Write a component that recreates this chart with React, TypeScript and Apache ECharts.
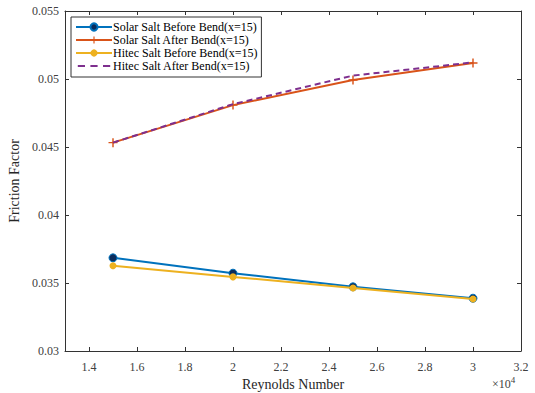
import React, { useEffect, useRef } from "react";
import * as echarts from "echarts";

const reynolds = [15000, 20000, 25000, 30000];
const solarBefore = [0.03685, 0.03572, 0.03472, 0.03388];
const solarAfter = [0.04532, 0.04808, 0.04992, 0.05118];
const hitecBefore = [0.03627, 0.03545, 0.03463, 0.03382];
const hitecAfter = [0.04532, 0.04815, 0.05025, 0.05122];
const seriesNames = [
  "Solar Salt Before Bend(x=15)",
  "Solar Salt After Bend(x=15)",
  "Hitec Salt Before Bend(x=15)",
  "Hitec Salt After Bend(x=15)",
];
const xTicks = [14000, 16000, 18000, 20000, 22000, 24000, 26000, 28000, 30000, 32000];
const xTickLabels = ["1.4", "1.6", "1.8", "2", "2.2", "2.4", "2.6", "2.8", "3", "3.2"];

const plusPath = "path://M4.2,0h1.6v10h-1.6z M0,4.2h10v1.6h-10z";
const dashIconPath =
  "path://M0,0h0.01v0.01h-0.01z M35.99,9.99h0.01v0.01h-0.01z M0,4h8v2h-8z M14,4h8v2h-8z M28,4h8v2h-8z";
const FONT = "'Liberation Serif', 'Times New Roman', serif";

export default function App() {
  const ref = useRef<HTMLDivElement>(null);
  useEffect(() => {
    const chart = echarts.init(ref.current!, undefined, { renderer: "svg" });
    const mk = (arr: number[]) => reynolds.map((x, i) => [x, arr[i]]);
    const tickLabelStyle = { fontFamily: FONT, fontSize: 12, color: "#404040" };
    chart.setOption({
      animation: false,
      backgroundColor: "#fff",
      textStyle: { fontFamily: FONT },
      grid: {
        left: 65,
        right: 14,
        top: 11,
        bottom: 42,
        show: false,
        containLabel: false,
        outerBoundsMode: "none",
      },
      legend: {
        orient: "vertical",
        left: 71,
        top: 17,
        itemWidth: 36,
        itemHeight: 9,
        itemGap: 1,
        padding: [4, 4, 5, 4],
        borderColor: "#333",
        borderWidth: 1,
        backgroundColor: "#fff",
        borderRadius: 0,
        textStyle: { fontFamily: FONT, fontSize: 12, color: "#000", padding: [0, 0, 0, -4] },
        data: [
          { name: seriesNames[0] },
          { name: seriesNames[1] },
          { name: seriesNames[2] },
          { name: seriesNames[3], icon: dashIconPath },
        ],
      },
      xAxis: [
        {
          type: "value",
          min: 13000,
          max: 32000,
          name: "Reynolds Number",
          nameLocation: "middle",
          nameGap: 24,
          nameTextStyle: { fontFamily: FONT, fontSize: 14, color: "#262626" },
          axisLine: { show: true, onZero: false, lineStyle: { color: "#333", width: 1 } },
          axisTick: { show: true, inside: true, length: 4, customValues: xTicks, lineStyle: { color: "#333" } },
          axisLabel: {
            ...tickLabelStyle,
            margin: 10,
            customValues: xTicks,
            formatter: (v: number) => xTickLabels[xTicks.indexOf(Math.round(v))] ?? "",
          },
          splitLine: { show: false },
        },
        {
          type: "value",
          position: "top",
          min: 13000,
          max: 32000,
          axisLine: { show: true, onZero: false, lineStyle: { color: "#333", width: 1 } },
          axisTick: { show: true, inside: true, length: 4, customValues: xTicks, lineStyle: { color: "#333" } },
          axisLabel: { show: false },
          splitLine: { show: false },
        },
      ],
      yAxis: [
        {
          type: "value",
          min: 0.03,
          max: 0.055,
          interval: 0.005,
          name: "Friction Factor",
          nameLocation: "middle",
          nameGap: 33,
          nameTextStyle: { fontFamily: FONT, fontSize: 14, color: "#262626" },
          axisLine: { show: true, onZero: false, lineStyle: { color: "#333", width: 1 } },
          axisTick: { show: true, inside: true, length: 4, lineStyle: { color: "#333" } },
          axisLabel: { ...tickLabelStyle, margin: 6 },
          splitLine: { show: false },
        },
        {
          type: "value",
          position: "right",
          min: 0.03,
          max: 0.055,
          interval: 0.005,
          axisLine: { show: true, onZero: false, lineStyle: { color: "#333", width: 1 } },
          axisTick: { show: true, inside: true, length: 4, lineStyle: { color: "#333" } },
          axisLabel: { show: false },
          splitLine: { show: false },
        },
      ],
      series: [
        {
          name: seriesNames[0],
          type: "line",
          data: mk(solarBefore),
          symbol: "circle",
          symbolSize: 8,
          lineStyle: { color: "#0072BD", width: 2 },
          itemStyle: { color: "#0b2c5c", borderColor: "#0072BD", borderWidth: 1 },
          z: 2,
        },
        {
          name: seriesNames[1],
          type: "line",
          data: mk(solarAfter),
          symbol: plusPath,
          symbolSize: 9,
          lineStyle: { color: "#D95319", width: 2 },
          itemStyle: { color: "#D95319" },
          z: 3,
        },
        {
          name: seriesNames[2],
          type: "line",
          data: mk(hitecBefore),
          symbol: "circle",
          symbolSize: 7,
          lineStyle: { color: "#EDB120", width: 2 },
          itemStyle: { color: "#EDB120" },
          z: 4,
        },
        {
          name: seriesNames[3],
          type: "line",
          data: mk(hitecAfter),
          symbol: "none",
          lineStyle: { color: "#7E2F8E", width: 2, type: [6, 4] },
          itemStyle: { color: "#7E2F8E" },
          z: 5,
        },
      ],
      graphic: [
        {
          type: "text",
          left: 492,
          top: 375,
          style: {
            text: "×10{sup|4}",
            fontFamily: FONT,
            fontSize: 12,
            fill: "#404040",
            rich: { sup: { fontSize: 9, verticalAlign: "top", padding: [0, 0, 8, 0], fontFamily: FONT, fill: "#404040" } },
          },
        },
      ],
    });
    return () => chart.dispose();
  }, []);
  return <div ref={ref} style={{ width: 535, height: 393, position: "absolute", left: 0, top: 0 }} />;
}
